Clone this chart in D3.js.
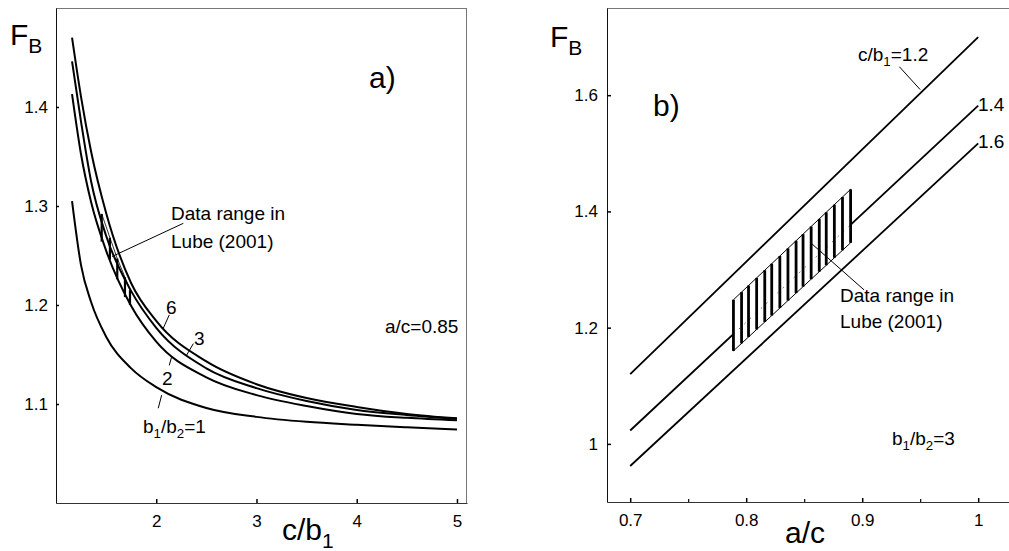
<!DOCTYPE html>
<html>
<head>
<meta charset="utf-8">
<script src="https://cdn.jsdelivr.net/npm/d3@7"></script>
<style>
  body { margin: 0; background: #fff; }
  svg { display: block; font-family: "Liberation Sans", Arial, sans-serif; }
</style>
</head>
<body>
<svg id="chart" width="1009" height="551"></svg>
<script>
// ---- panel a) : F_B against c/b1, one curve per b1/b2 ----
const cb1 = [1.16, 1.25, 1.35, 1.5, 1.75, 2.0, 2.5, 3.0, 3.5, 4.0, 4.5, 5.0];
const fbRatio1 = [1.305, 1.240, 1.203, 1.168, 1.136, 1.117, 1.096, 1.087, 1.082, 1.079, 1.0765, 1.0743];
const fbRatio2 = [1.413, 1.352, 1.304, 1.255, 1.199, 1.163, 1.127, 1.109, 1.098, 1.090, 1.086, 1.0835];
const fbRatio3 = [1.446, 1.385, 1.325, 1.270, 1.214, 1.177, 1.136, 1.116, 1.103, 1.094, 1.089, 1.085];
const fbRatio6 = [1.470, 1.410, 1.355, 1.293, 1.222, 1.184, 1.143, 1.120, 1.106, 1.097, 1.090, 1.0855];

// hatched "data range" strip on panel a)
const hatchCb = [1.456, 1.538, 1.611, 1.688, 1.738];
const hatchCbLo = [1.264, 1.246, 1.226, 1.208, 1.200];
const hatchCbHi = [1.292, 1.268, 1.247, 1.228, 1.215];

const ticksA_x = [2, 3, 4, 5];
const ticksA_y = [1.1, 1.2, 1.3, 1.4];

// ---- panel b) : F_B against a/c, one line per c/b1 ----
const acEnds = [0.7, 1.0];
const fbC12 = [1.12, 1.70];
const fbC14 = [1.023, 1.582];
const fbC16 = [0.962, 1.517];

// hatched parallelogram on panel b)
const hatchAc = [0.789, 0.796, 0.802, 0.809, 0.816, 0.822, 0.829, 0.836,
                 0.843, 0.849, 0.856, 0.863, 0.869, 0.876, 0.883, 0.890];
const hatchAcEdge = [0.789, 0.890];
const hatchTopEdge = [1.248, 1.438];
const hatchBotEdge = [1.160, 1.346];

const ticksB_x = [0.7, 0.8, 0.9, 1];
const ticksB_xMinor = [0.75, 0.85, 0.95];
const ticksB_y = [1, 1.2, 1.4, 1.6];

const svg = d3.select('#chart');

// scales
const xA = d3.scaleLinear().domain([1, 5.1]).range([56, 467]);
const yA = d3.scaleLinear().domain([1, 1.5]).range([503, 8]);
const xB = d3.scaleLinear().domain([0.68, 1.03]).range([607, 1013]);
const yB = d3.scaleLinear().domain([0.9, 1.75]).range([502, 8]);

// text with subscripts, parts = [[str, isSub], ...]
function subText(g, x, y, size, parts) {
  const t = g.append('text').attr('x', x).attr('y', y).attr('font-size', size).attr('fill', '#000');
  let shift = 0;
  parts.forEach(p => {
    const sub = p[1];
    const want = sub ? Math.round(size * 0.28) : 0;
    t.append('tspan')
      .attr('dy', want - shift)
      .attr('font-size', sub ? size * 0.7 : size)
      .text(p[0]);
    shift = want;
  });
  return t;
}

function leader(g, x, y, p0, p1, w) {
  g.append('line')
    .attr('x1', x(p0[0])).attr('y1', y(p0[1]))
    .attr('x2', x(p1[0])).attr('y2', y(p1[1]))
    .attr('stroke', '#000').attr('stroke-width', w || 1);
}

function styleAxis(g, domainColor) {
  g.select('.domain').attr('stroke', domainColor);
  g.selectAll('.tick line').attr('stroke', '#000').attr('stroke-width', 1.5);
  g.selectAll('text').attr('font-size', 17).attr('font-family', null).attr('fill', '#000');
}

// ================= panel a =================
const ga = svg.append('g');

// frame: top/right grey, axes dark
ga.append('line').attr('x1', 56).attr('x2', 467).attr('y1', 8.5).attr('y2', 8.5).attr('stroke', '#777');
ga.append('line').attr('x1', 466.5).attr('x2', 466.5).attr('y1', 8).attr('y2', 503).attr('stroke', '#777');

ga.append('g').attr('transform', 'translate(0,503)')
  .call(d3.axisBottom(xA).tickValues(ticksA_x).tickFormat(d => String(d))
    .tickSizeInner(-4).tickSizeOuter(0).tickPadding(12))
  .call(g => styleAxis(g, '#333'));

ga.append('g').attr('transform', 'translate(56,0)')
  .call(d3.axisLeft(yA).tickValues(ticksA_y).tickFormat(d => String(d))
    .tickSizeInner(-3).tickSizeOuter(0).tickPadding(8))
  .call(g => styleAxis(g, '#111'));

const lineA = d3.line().x((d, i) => xA(cb1[i])).y(d => yA(d)).curve(d3.curveMonotoneX);
[fbRatio1, fbRatio2, fbRatio3, fbRatio6].forEach(s => {
  ga.append('path').attr('d', lineA(s)).attr('fill', 'none')
    .attr('stroke', '#000').attr('stroke-width', 2);
});

// hatch strip
ga.append('path')
  .attr('d', d3.line().x((d, i) => xA(hatchCb[i])).y(d => yA(d))(hatchCbHi))
  .attr('fill', 'none').attr('stroke', '#000').attr('stroke-width', 0.8);
ga.selectAll('.hatchA').data(hatchCb).enter().append('line')
  .attr('x1', d => xA(d)).attr('x2', d => xA(d))
  .attr('y1', (d, i) => yA(hatchCbLo[i])).attr('y2', (d, i) => yA(hatchCbHi[i]))
  .attr('stroke', '#000').attr('stroke-width', 2.2);

// annotations
leader(ga, xA, yA, [2.27, 1.2825], [1.559, 1.249]);
leader(ga, xA, yA, [2.07, 1.1765], [2.13, 1.190]);
leader(ga, xA, yA, [2.304, 1.1495], [2.37, 1.161]);
leader(ga, xA, yA, [2.154, 1.1478], [2.13, 1.139]);
leader(ga, xA, yA, [2.054, 1.109], [2.02, 1.0957]);

ga.append('text').attr('x', 171).attr('y', 220).attr('font-size', 19).text('Data range in');
ga.append('text').attr('x', 171).attr('y', 248).attr('font-size', 19).text('Lube (2001)');
ga.append('text').attr('x', 166).attr('y', 314).attr('font-size', 19).text('6');
ga.append('text').attr('x', 194).attr('y', 345).attr('font-size', 19).text('3');
ga.append('text').attr('x', 162).attr('y', 385).attr('font-size', 19).text('2');
subText(ga, 143, 433, 19, [['b'], ['1', true], ['/b'], ['2', true], ['=1']]);
ga.append('text').attr('x', 385).attr('y', 333).attr('font-size', 19).text('a/c=0.85');
ga.append('text').attr('x', 369).attr('y', 88).attr('font-size', 30).text('a)');
subText(ga, 10, 45, 30, [['F'], ['B', true]]);
subText(ga, 282, 540, 30, [['c/b'], ['1', true]]);

// ================= panel b =================
const gb = svg.append('g');

gb.append('line').attr('x1', 607).attr('x2', 1009).attr('y1', 8.5).attr('y2', 8.5).attr('stroke', '#777');

gb.append('g').attr('transform', 'translate(0,502)')
  .call(d3.axisBottom(xB).tickValues(ticksB_x).tickFormat(d => String(d))
    .tickSizeInner(-4).tickSizeOuter(0).tickPadding(12))
  .call(g => styleAxis(g, '#333'));
gb.append('g').attr('transform', 'translate(0,502)')
  .call(d3.axisBottom(xB).tickValues(ticksB_xMinor).tickFormat('').tickSizeInner(-3).tickSizeOuter(0))
  .call(g => g.select('.domain').remove())
  .call(g => g.selectAll('.tick line').attr('stroke', '#000').attr('stroke-width', 1.2));

gb.append('g').attr('transform', 'translate(607,0)')
  .call(d3.axisLeft(yB).tickValues(ticksB_y).tickFormat(d => String(d))
    .tickSizeInner(-4).tickSizeOuter(0).tickPadding(9))
  .call(g => styleAxis(g, '#111'));

const lineB = d3.line().x((d, i) => xB(acEnds[i])).y(d => yB(d));
[fbC12, fbC14, fbC16].forEach(s => {
  gb.append('path').attr('d', lineB(s)).attr('fill', 'none')
    .attr('stroke', '#000').attr('stroke-width', 1.8);
});

// hatched parallelogram
const topEdge = d3.scaleLinear().domain(hatchAcEdge).range(hatchTopEdge);
const botEdge = d3.scaleLinear().domain(hatchAcEdge).range(hatchBotEdge);
const c14 = d3.scaleLinear().domain(acEnds).range(fbC14);
gb.append('path')
  .attr('d', d3.line()([
    [xB(hatchAcEdge[0]), yB(hatchBotEdge[0])], [xB(hatchAcEdge[1]), yB(hatchBotEdge[1])],
    [xB(hatchAcEdge[1]), yB(hatchTopEdge[1])], [xB(hatchAcEdge[0]), yB(hatchTopEdge[0])]
  ]) + 'Z')
  .attr('fill', '#fff').attr('stroke', '#000').attr('stroke-width', 1);
// the 1.4 line shows only as a faint dotted trace inside the strip
gb.append('path')
  .attr('d', d3.line().x(d => xB(d)).y(d => yB(c14(d)))(hatchAcEdge))
  .attr('fill', 'none').attr('stroke', '#444').attr('stroke-width', 0.8).attr('stroke-dasharray', '1.5,6');
gb.selectAll('.hatchB').data(hatchAc).enter().append('line')
  .attr('x1', d => xB(d)).attr('x2', d => xB(d))
  .attr('y1', d => yB(botEdge(d))).attr('y2', d => yB(topEdge(d)))
  .attr('stroke', '#000').attr('stroke-width', 2.8);

leader(gb, xB, yB, [0.932, 1.649], [0.950, 1.6096]);
leader(gb, xB, yB, [0.855, 1.347], [0.9016, 1.265]);

subText(gb, 858, 61, 19, [['c/b'], ['1', true], ['=1.2']]);
gb.append('text').attr('x', 978).attr('y', 111).attr('font-size', 19).text('1.4');
gb.append('text').attr('x', 978).attr('y', 148).attr('font-size', 19).text('1.6');
gb.append('text').attr('x', 840).attr('y', 302).attr('font-size', 19).text('Data range in');
gb.append('text').attr('x', 840).attr('y', 328).attr('font-size', 19).text('Lube (2001)');
subText(gb, 892, 445, 19, [['b'], ['1', true], ['/b'], ['2', true], ['=3']]);
gb.append('text').attr('x', 653).attr('y', 116).attr('font-size', 30).text('b)');
subText(gb, 550, 47, 30, [['F'], ['B', true]]);
subText(gb, 785, 543, 30, [['a/c']]);
</script>
</body>
</html>
